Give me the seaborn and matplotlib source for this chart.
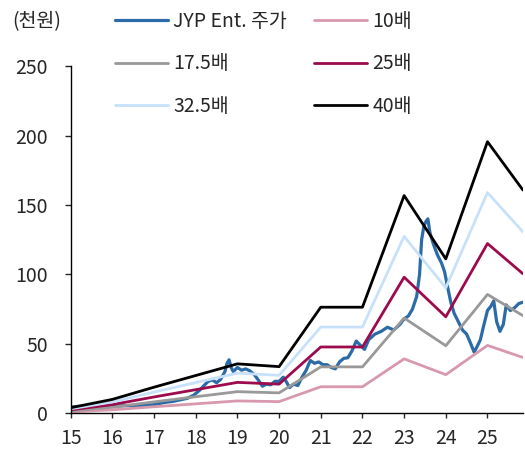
import numpy as np
import pandas as pd
import matplotlib
matplotlib.use("Agg")
import matplotlib.pyplot as plt
import seaborn as sns

# PER band: EPS (thousand won) at each year mark
band_years = [15, 16, 17, 18, 19, 20, 21, 22, 23, 24, 25, 25.85]
eps = [0.10, 0.25, 0.47, 0.68, 0.89, 0.84, 1.91, 1.91, 3.92, 2.78, 4.89, 4.02]
multiples = [10, 17.5, 25, 32.5, 40]
band_labels = ["10배", "17.5배", "25배", "32.5배", "40배"]
band_colors = ["#D899AD", "#999999", "#9C0B4D", "#C8E1FB", "#000000"]

# JYP Ent. share price (thousand won)
price_years = [15.0, 15.2, 15.4, 15.6, 15.8, 16.0, 16.2, 16.4, 16.6, 16.8,
               17.0, 17.15, 17.3, 17.45, 17.6, 17.8, 17.95, 18.1, 18.2, 18.3,
               18.4, 18.5, 18.6, 18.7, 18.75, 18.8, 18.85, 18.9, 19.0, 19.1,
               19.2, 19.3, 19.4, 19.5, 19.6, 19.7, 19.8, 19.9, 20.0, 20.1,
               20.15, 20.25, 20.35, 20.45, 20.55, 20.65, 20.75, 20.85, 20.95, 21.05,
               21.15, 21.25, 21.35, 21.45, 21.55, 21.65, 21.75, 21.85, 21.95, 22.05,
               22.15, 22.3, 22.45, 22.6, 22.75, 22.9, 23.0, 23.1, 23.2, 23.3,
               23.37, 23.42, 23.47, 23.52, 23.57, 23.62, 23.7, 23.8, 23.9, 23.97,
               24.05, 24.12, 24.2, 24.3, 24.4, 24.5, 24.6, 24.68, 24.75, 24.83,
               24.9, 25.0, 25.08, 25.15, 25.22, 25.3, 25.38, 25.45, 25.55, 25.65,
               25.75, 25.85]
price = [4.5, 5.0, 4.8, 5.2, 4.6, 5.0, 5.3, 5.6, 5.4, 5.8,
         6.2, 7.2, 8.0, 8.5, 9.5, 10.8, 13.0, 16.8, 20.0, 23.0,
         24.0, 22.0, 24.5, 30.0, 36.0, 38.5, 33.0, 30.0, 33.0, 31.0,
         32.0, 30.5, 28.0, 24.0, 19.5, 21.0, 20.5, 23.0, 23.0, 26.0,
         24.0, 18.5, 21.0, 20.0, 26.0, 31.0, 38.0, 36.0, 37.0, 35.0,
         35.0, 33.0, 32.0, 37.0, 39.5, 40.0, 45.0, 52.0, 49.0, 46.0,
         53.0, 57.0, 59.0, 62.0, 60.0, 64.0, 68.0, 70.0, 75.0, 84.0,
         100.0, 125.0, 134.0, 138.0, 140.0, 130.0, 122.0, 114.0, 108.0, 102.0,
         90.0, 80.0, 72.0, 66.0, 60.0, 57.0, 50.0, 44.0, 48.0, 53.0,
         62.0, 74.0, 77.0, 81.0, 66.0, 59.0, 64.0, 78.0, 74.0, 76.0,
         79.0, 80.0]

x_ticks = list(range(15, 26))
y_ticks = [0, 50, 100, 150, 200, 250]

sns.set_theme(style="white")
plt.rcParams["font.family"] = ["Noto Sans CJK KR", "DejaVu Sans"]
fs = 14

fig = plt.figure(figsize=(5.25, 4.5), dpi=100)
ax = fig.add_axes([0.1347, 0.0816, 0.8613, 0.7714])

handles = {}
sns.lineplot(x=price_years, y=price, color="#2B6BA8", linewidth=2.3, ax=ax)
handles["JYP Ent. 주가"] = ax.lines[-1]

for m, lab, col in zip(multiples, band_labels, band_colors):
    vals = [e * m for e in eps]
    sns.lineplot(x=band_years, y=vals, color=col, linewidth=2.0, ax=ax)
    handles[lab] = ax.lines[-1]

ax.set_xlim(15, 25.85)
ax.set_ylim(0, 250)
ax.set_xticks(x_ticks)
ax.set_xticklabels([str(t) for t in x_ticks])
ax.set_yticks(y_ticks)
ax.set_xlabel("")
ax.set_ylabel("")

for side in ["top", "right"]:
    ax.spines[side].set_visible(False)
for side in ["left", "bottom"]:
    ax.spines[side].set_color("black")
    ax.spines[side].set_linewidth(1.0)
ax.tick_params(axis="y", direction="out", length=4.5, width=1, pad=12, labelsize=fs)
ax.tick_params(axis="x", direction="out", length=3.8, width=1, pad=7, labelsize=fs)
ax.tick_params(left=True, bottom=True)

order = ["JYP Ent. 주가", "17.5배", "32.5배", "10배", "25배", "40배"]
fig.legend([handles[k] for k in order], order, ncol=2, loc="upper left",
           bbox_to_anchor=(115 / 525, 1 - 11 / 450), frameon=False,
           borderpad=0, borderaxespad=0, handlelength=2.7, handletextpad=0.3,
           columnspacing=1.4, labelspacing=1.1, fontsize=fs)

fig.text(12 / 525, 1 - 22 / 450, "(천원)", ha="left", va="center", fontsize=fs)

fig.savefig("out.png", dpi=100)
